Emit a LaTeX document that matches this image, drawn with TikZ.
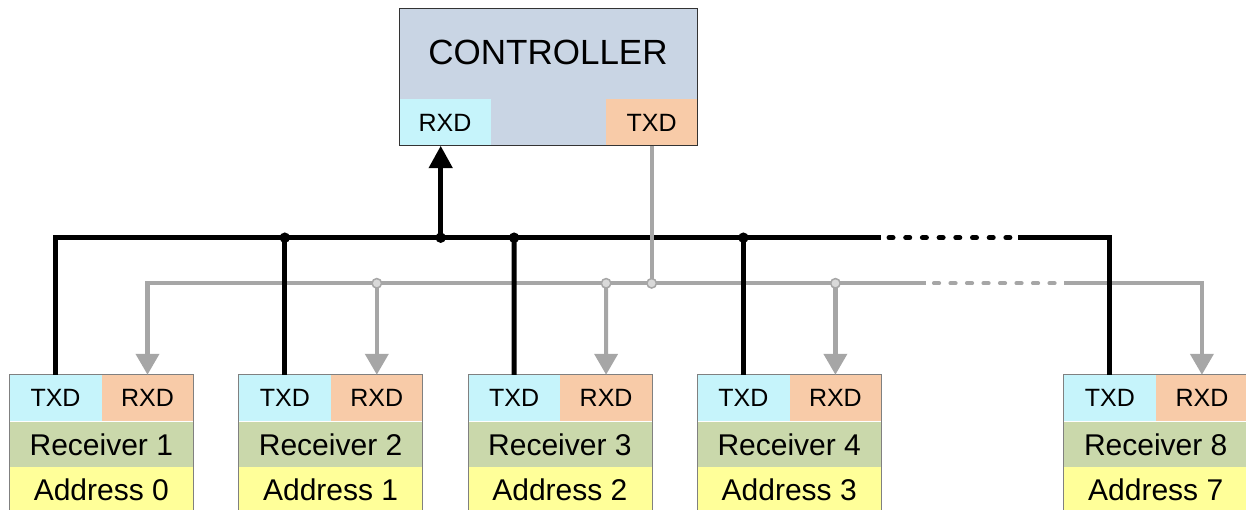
\documentclass[tikz,border=0pt]{standalone}
\usepackage{fontspec}
\setmainfont{Liberation Sans}
\usetikzlibrary{arrows.meta}
\definecolor{cyanbg}{HTML}{C6F4FB}
\definecolor{peachbg}{HTML}{F8CBA8}
\definecolor{greenbg}{HTML}{CAD8AB}
\definecolor{yellowbg}{HTML}{FFFF99}
\definecolor{ctrlbg}{HTML}{C9D5E4}
\definecolor{graybus}{HTML}{A6A6A6}
\definecolor{dotfill}{HTML}{D9D9D9}
\definecolor{boxline}{HTML}{808080}
\begin{document}
\begin{tikzpicture}[x=1pt,y=-1pt,
  port/.style={inner sep=0pt,outer sep=0pt,minimum width=92pt,minimum height=46.5pt,font=\fontsize{25}{30}\selectfont},
  rowbox/.style={inner sep=0pt,outer sep=0pt,minimum width=184pt,minimum height=45.5pt,font=\fontsize{30}{36}\selectfont},
  blk/.style={line width=5pt,black},
  gry/.style={line width=4.2pt,graybus},
  bdash/.style={dash pattern=on 4pt off 12.7pt,line cap=round},
  gdash/.style={dash pattern=on 5pt off 11.5pt,line cap=round},
  btip/.style={-{Triangle[width=23pt,length=22.5pt]}},
  gtip/.style={-{Triangle[width=23pt,length=21pt]}},
  bdot/.style={circle,fill=black,inner sep=0pt,minimum size=10.5pt},
  gdot/.style={circle,fill=dotfill,draw=graybus,line width=1.5pt,inner sep=0pt,minimum size=9.5pt}
]
\useasboundingbox (0,0) rectangle (1246,510);

% Controller
\node[draw=black!80,line width=1pt,fill=ctrlbg,inner sep=0pt,outer sep=0pt,
      minimum width=298.3pt,minimum height=137.4pt] (ctrl) at (548.15,77) {};
\node[font=\fontsize{35}{42}\selectfont] (ctrltitle) at (548,52.5) {CONTROLLER};
\node[port,fill=cyanbg,minimum width=92pt] (ctrlrx) at (445,122.5) {RXD};
\node[port,fill=peachbg,minimum width=91.3pt] (ctrltx) at (651.65,122.5) {TXD};
\draw[black!80,line width=1pt] (ctrl.north west) rectangle (ctrl.south east);

% Receivers
\foreach \i/\L/\a in {1/9.3/0, 2/238.6/1, 3/467.9/2, 4/697.2/3, 8/1063.7/7} {
  \node[port,fill=cyanbg,minimum width=92.4pt] (r\i tx) at (\L+46.2,398) {TXD};
  \node[port,fill=peachbg,minimum width=91.6pt] (r\i rx) at (\L+138.2,398) {RXD};
  \node[rowbox,fill=greenbg] (r\i name) at (\L+92,444.3) {Receiver \i};
  \node[rowbox,fill=yellowbg,minimum height=46pt] (r\i addr) at (\L+92,490) {Address \a};
  \draw[boxline,line width=0.8pt] (r\i tx.north west) rectangle (r\i addr.south east);
}

% bus coordinates
\coordinate (bL) at (55.5,237.7);
\coordinate (b2) at (284.8,237.7);
\coordinate (bc) at (440.7,237.7);
\coordinate (b3) at (514.1,237.7);
\coordinate (b4) at (743.4,237.7);
\coordinate (bd1) at (881,237.7);
\coordinate (bd2) at (889,237.7);
\coordinate (bd3) at (1015,237.7);
\coordinate (bd4) at (1018,237.7);
\coordinate (bR) at (1109.9,237.7);

\coordinate (gL) at (147.5,283.3);
\coordinate (g2) at (376.8,283.3);
\coordinate (g3) at (606.1,283.3);
\coordinate (gc) at (651.65,283.3);
\coordinate (g4) at (835.4,283.3);
\coordinate (gd1) at (926,283.3);
\coordinate (gd2) at (934,283.3);
\coordinate (gd3) at (1058,283.3);
\coordinate (gd4) at (1064,283.3);
\coordinate (gR) at (1201.9,283.3);

% gray bus (controller TXD -> receiver RXD)
\draw[gry,gtip] (gd1) -- (gL) -- (r1rx.north);
\draw[gry,gdash] (gd2) -- (gd3);
\draw[gry,gtip] (gd4) -- (gR) -- (r8rx.north);
\draw[gry,gtip] (g2) -- (r2rx.north);
\draw[gry,gtip] (g3) -- (r3rx.north);
\draw[gry,gtip] (g4) -- (r4rx.north);

% black bus (receiver TXD -> controller RXD)
\draw[blk] (r1tx.north) -- (bL) -- (bd1);
\draw[blk,bdash] (bd2) -- (bd3);
\draw[blk] (bd4) -- (bR) -- (r8tx.north);
\draw[blk] (b2) -- (r2tx.north);
\draw[blk] (b3) -- (r3tx.north);
\draw[blk] (b4) -- (r4tx.north);
\draw[blk,btip] (bc) -- (bc |- ctrlrx.south);
\foreach \p in {b2,bc,b3,b4} \node[bdot] (dot\p) at (\p) {};

% controller TXD drop
\draw[gry] (ctrltx.south) -- (gc);
\foreach \p in {g2,g3,gc,g4} \node[gdot] (dot\p) at (\p) {};
\end{tikzpicture}
\end{document}
